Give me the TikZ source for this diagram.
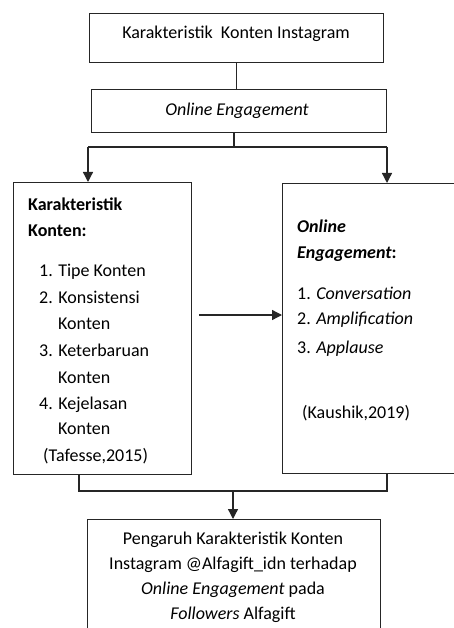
\documentclass[tikz,border=0pt]{standalone}
\usepackage{fontspec}
\setmainfont{Carlito}
\usetikzlibrary{arrows.meta}
\begin{document}
\begin{tikzpicture}[x=1pt,y=-1pt,
  box/.style={draw=black!85, line width=1.3pt, inner sep=0pt, anchor=north west},
  conn/.style={draw=black!85, line width=1.3pt},
  arr/.style={conn, -{Triangle[length=10pt,width=10pt]}},
  txt/.style={inner sep=0pt, font=\fontsize{18}{26}\selectfont},
  lt/.style={txt, anchor=base west},
  ct/.style={txt, anchor=base}]
\useasboundingbox (0,0) rectangle (454,628);
\clip (0,0) rectangle (454,628);
% boxes
\node[box, minimum width=294pt, minimum height=49pt] (top) at (89,13) {};
\node[box, minimum width=295pt, minimum height=43pt] (eng) at (91,89) {};
\node[box, minimum width=178pt, minimum height=292pt] (left) at (13,182) {};
\node[box, minimum width=200pt, minimum height=290pt] (right) at (282,183) {};
\node[box, minimum width=293pt, minimum height=140pt] (res) at (87,519) {};
% connectors
\coordinate (split) at (234,147);
\coordinate (sl) at (88,147);
\coordinate (sr) at (387,147);
\coordinate (hstart) at (199,315);
\coordinate (jl) at (79,491);
\coordinate (jr) at (387,491);
\coordinate (jm) at (233,491);
\draw[conn] (top.south) -- (top.south |- eng.north);
\draw[conn] (eng.south -| split) -- (split);
\draw[conn] (sl) -- (sr);
\draw[arr] (sl) -- (sl |- left.north);
\draw[arr] (sr) -- (sr |- right.north);
\draw[arr] (hstart) -- (hstart -| right.west);
\draw[conn] (left.south -| jl) -- (jl) -- (jr) -- (right.south -| jr);
\draw[arr] (jm) -- (jm |- res.north);
% texts
\node[ct] (t1) at (236,39) {Karakteristik\ \ Konten Instagram};
\node[ct] (t2) at (237,116) {\itshape Online Engagement};
\node[lt] (l1) at (28,211) {\bfseries Karakteristik};
\node[lt] (l2) at (28,236) {\bfseries Konten:};
\node[lt] (l3) at (39,276) {1. Tipe Konten};
\node[lt] (l4) at (39,303) {2. Konsistensi};
\node[lt] (l5) at (58,329) {Konten};
\node[lt] (l6) at (39,356) {3. Keterbaruan};
\node[lt] (l7) at (58,383) {Konten};
\node[lt] (l8) at (39,409) {4. Kejelasan};
\node[lt] (l9) at (58,434) {Konten};
\node[lt] (l10) at (43,461) {(Tafesse,2015)};
\node[lt] (r1) at (297,233) {\bfseries\itshape Online};
\node[lt] (r2) at (297,258) {\bfseries{\itshape Engagement}:};
\node[lt] (r3) at (297,299) {1. \textit{Conversation}};
\node[lt] (r4) at (297,324) {2. \textit{Amplification}};
\node[lt] (r5) at (297,353) {3. \textit{Applause}};
\node[lt] (r6) at (302,418) {(Kaushik,2019)};
\node[ct] (b1) at (233,544) {Pengaruh Karakteristik Konten};
\node[ct] (b2) at (233,569) {Instagram @Alfagift\_idn terhadap};
\node[ct] (b3) at (233,594) {\textit{Online Engagement} pada};
\node[ct] (b4) at (233,619) {\textit{Followers} Alfagift};
\end{tikzpicture}
\end{document}
